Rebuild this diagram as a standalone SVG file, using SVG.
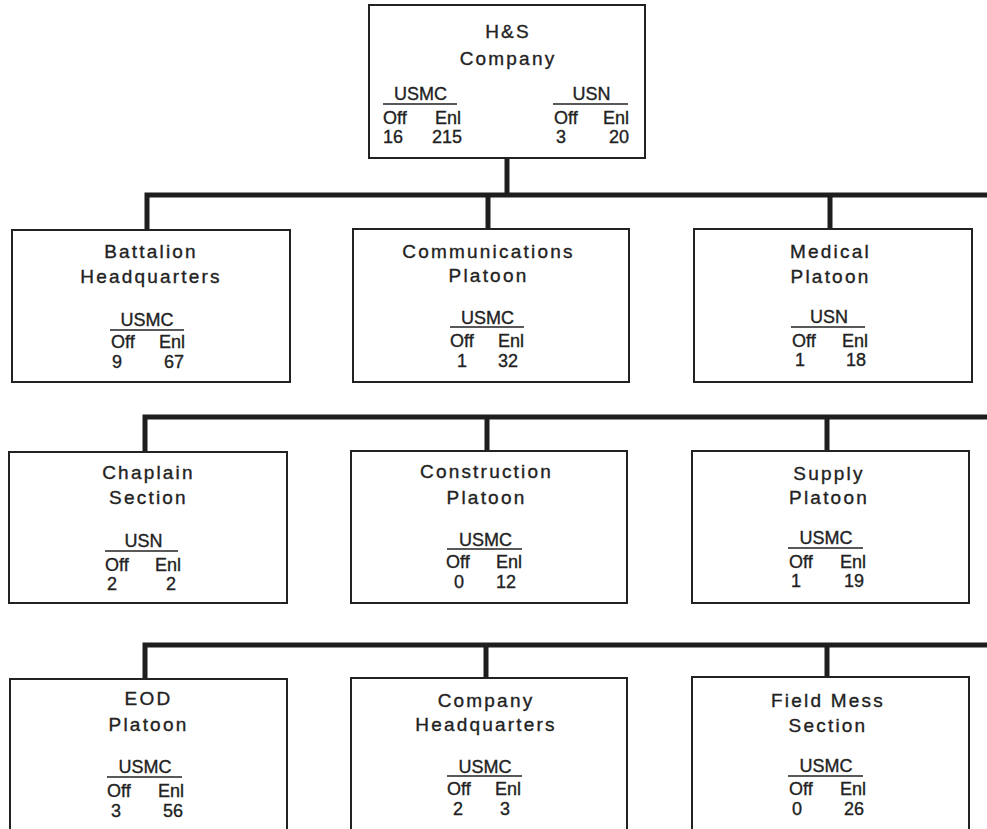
<svg xmlns="http://www.w3.org/2000/svg" width="987" height="829" viewBox="0 0 987 829">
<style>
.bg{fill:#fff}
.box{fill:#fff;stroke:#222;stroke-width:2}
.conn{fill:none;stroke:#1e1e1e;stroke-width:5;stroke-linejoin:miter;stroke-linecap:butt}
.u{stroke:#222;stroke-width:1.5}
text{font-family:"Liberation Sans",Arial,sans-serif;fill:#222;stroke:#222;stroke-width:0.35px}
.t{font-size:19px;letter-spacing:2.2px;text-anchor:middle}
.h{font-size:18px;text-anchor:middle}
.s{font-size:18px}
.e{font-size:18px;text-anchor:end}
</style>
<rect class="bg" x="0" y="0" width="987" height="829"/>
<g id="connectors">
<path class="conn" d="M507 158 V195"/>
<path class="conn" d="M147 230 V195 H987 M488 195 V229 M830 195 V229"/>
<path class="conn" d="M145 452 V417 H987 M487 417 V451 M827 417 V451"/>
<path class="conn" d="M145 679 V645 H987 M486 645 V678 M827 645 V677"/>
</g>
<g id="hs-company">
<rect class="box" x="369" y="5" width="276" height="153"/>
<text class="t" x="508" y="38">H&amp;S</text>
<text class="t" x="508" y="65">Company</text>
<text class="h" x="420.5" y="100">USMC</text>
<line class="u" x1="383" y1="104" x2="457" y2="104"/>
<text class="s" x="383" y="124">Off</text>
<text class="e" x="461" y="124">Enl</text>
<text class="s" x="383" y="143">16</text>
<text class="e" x="462" y="143">215</text>
<text class="h" x="591.5" y="100">USN</text>
<line class="u" x1="553" y1="104" x2="628" y2="104"/>
<text class="s" x="554" y="124">Off</text>
<text class="e" x="629" y="124">Enl</text>
<text class="s" x="556" y="143">3</text>
<text class="e" x="629" y="143">20</text>
</g>
<g id="battalion-hq">
<rect class="box" x="12" y="230" width="278" height="152"/>
<text class="t" x="151" y="258">Battalion</text>
<text class="t" x="151" y="283">Headquarters</text>
<text class="h" x="147" y="326">USMC</text>
<line class="u" x1="110" y1="330" x2="184" y2="330"/>
<text class="s" x="111" y="348">Off</text>
<text class="e" x="185" y="348">Enl</text>
<text class="s" x="112" y="368">9</text>
<text class="e" x="184" y="368">67</text>
</g>
<g id="communications-platoon">
<rect class="box" x="353" y="229" width="276" height="153"/>
<text class="t" x="488.5" y="258">Communications</text>
<text class="t" x="488.5" y="282">Platoon</text>
<text class="h" x="487.5" y="324">USMC</text>
<line class="u" x1="450" y1="327" x2="524" y2="327"/>
<text class="s" x="450" y="347">Off</text>
<text class="e" x="524" y="347">Enl</text>
<text class="s" x="457" y="367">1</text>
<text class="s" x="498" y="367">32</text>
</g>
<g id="medical-platoon">
<rect class="box" x="694" y="229" width="278" height="153"/>
<text class="t" x="830.5" y="258">Medical</text>
<text class="t" x="830.5" y="283">Platoon</text>
<text class="h" x="829" y="323">USN</text>
<line class="u" x1="791" y1="327" x2="865" y2="327"/>
<text class="s" x="792" y="347">Off</text>
<text class="e" x="868" y="347">Enl</text>
<text class="s" x="795" y="366">1</text>
<text class="e" x="866" y="366">18</text>
</g>
<g id="chaplain-section">
<rect class="box" x="9" y="452" width="278" height="151"/>
<text class="t" x="148.5" y="479">Chaplain</text>
<text class="t" x="148.5" y="504">Section</text>
<text class="h" x="143.5" y="547">USN</text>
<line class="u" x1="105" y1="551" x2="178" y2="551"/>
<text class="s" x="105" y="571">Off</text>
<text class="e" x="181" y="571">Enl</text>
<text class="s" x="107" y="590">2</text>
<text class="e" x="176" y="590">2</text>
</g>
<g id="construction-platoon">
<rect class="box" x="351" y="451" width="276" height="152"/>
<text class="t" x="486.5" y="478">Construction</text>
<text class="t" x="486.5" y="504">Platoon</text>
<text class="h" x="485.5" y="546">USMC</text>
<line class="u" x1="447" y1="549" x2="522" y2="549"/>
<text class="s" x="446" y="568">Off</text>
<text class="e" x="522" y="568">Enl</text>
<text class="s" x="454" y="588">0</text>
<text class="s" x="496" y="588">12</text>
</g>
<g id="supply-platoon">
<rect class="box" x="692" y="451" width="277" height="152"/>
<text class="t" x="829" y="480">Supply</text>
<text class="t" x="829" y="504">Platoon</text>
<text class="h" x="826" y="544">USMC</text>
<line class="u" x1="788" y1="548" x2="863" y2="548"/>
<text class="s" x="789" y="568">Off</text>
<text class="e" x="866" y="568">Enl</text>
<text class="s" x="791" y="587">1</text>
<text class="e" x="864" y="587">19</text>
</g>
<g id="eod-platoon">
<rect class="box" x="10" y="679" width="277" height="200"/>
<text class="t" x="148.5" y="705">EOD</text>
<text class="t" x="148.5" y="731">Platoon</text>
<text class="h" x="145" y="773">USMC</text>
<line class="u" x1="107" y1="777" x2="182" y2="777"/>
<text class="s" x="107" y="797">Off</text>
<text class="e" x="184" y="797">Enl</text>
<text class="s" x="111" y="817">3</text>
<text class="e" x="183" y="817">56</text>
</g>
<g id="company-hq">
<rect class="box" x="351" y="678" width="276" height="200"/>
<text class="t" x="486" y="707">Company</text>
<text class="t" x="486" y="731">Headquarters</text>
<text class="h" x="485" y="773">USMC</text>
<line class="u" x1="447" y1="776" x2="522" y2="776"/>
<text class="s" x="447" y="795">Off</text>
<text class="e" x="521" y="795">Enl</text>
<text class="s" x="453" y="815">2</text>
<text class="s" x="500" y="815">3</text>
</g>
<g id="field-mess-section">
<rect class="box" x="692" y="677" width="277" height="200"/>
<text class="t" x="828" y="707">Field Mess</text>
<text class="t" x="828" y="732">Section</text>
<text class="h" x="826" y="772">USMC</text>
<line class="u" x1="788" y1="776" x2="863" y2="776"/>
<text class="s" x="789" y="795">Off</text>
<text class="e" x="866" y="795">Enl</text>
<text class="s" x="792" y="815">0</text>
<text class="e" x="864" y="815">26</text>
</g>
</svg>
